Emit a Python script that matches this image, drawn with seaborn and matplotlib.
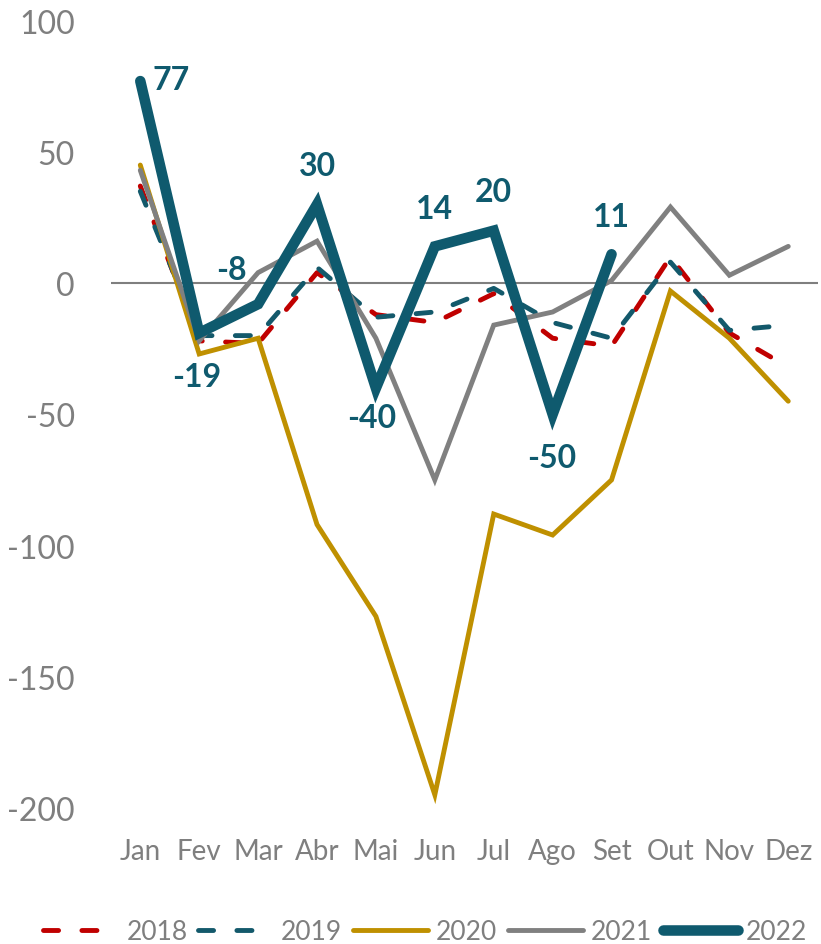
import numpy as np
import pandas as pd
import matplotlib
matplotlib.use("Agg")
import matplotlib.pyplot as plt
import seaborn as sns
from matplotlib.lines import Line2D

months = ["Jan", "Fev", "Mar", "Abr", "Mai", "Jun", "Jul", "Ago", "Set", "Out", "Nov", "Dez"]
v2018 = [37, -22, -23, 4, -12, -15, -4, -21, -24, 10, -19, -32]
v2019 = [35, -20, -20, 6, -13, -11, -2, -15, -21, 8, -18, -16]
v2020 = [45, -27, -21, -92, -127, -195, -88, -96, -75, -3, -21, -45]
v2021 = [43, -22, 4, 16, -21, -75, -16, -11, 1, 29, 3, 14]
v2022 = [77, -19, -8, 30, -40, 14, 20, -50, 11]
years = ["2018", "2019", "2020", "2021", "2022"]
y_ticks = [100, 50, 0, -50, -100, -150, -200]

series = {"2018": v2018, "2019": v2019, "2020": v2020, "2021": v2021, "2022": v2022}
rows = []
for yr, vals in series.items():
    for i, v in enumerate(vals):
        rows.append({"pos": i, "mes": months[i], "ano": yr, "valor": v})
df = pd.DataFrame(rows)

dash = (0, (3.1, 4.8))
styles = {
    "2018": dict(color="#C00000", lw=3.5, ls=dash),
    "2019": dict(color="#13596B", lw=3.5, ls=dash),
    "2020": dict(color="#BF9000", lw=3.5, ls="-"),
    "2021": dict(color="#808080", lw=3.5, ls="-"),
    "2022": dict(color="#0F5A6E", lw=7.6, ls="-"),
}

sns.set_theme(style="white")
plt.rcParams["font.family"] = ["Lato", "DejaVu Sans"]

fig = plt.figure(figsize=(8.21, 9.45), dpi=100)
ax = fig.add_axes([0.135, 0.144, 0.861, 0.833])

ax.axhline(0, color="#7F7F7F", lw=1.5, zorder=1)

for yr in years:
    st = styles[yr]
    sub = df[df["ano"] == yr]
    sns.lineplot(data=sub, x="pos", y="valor", ax=ax, color=st["color"],
                 linewidth=st["lw"], linestyle=st["ls"], legend=False,
                 zorder=3 if yr == "2022" else 2)
for line in ax.get_lines()[1:]:
    line.set_dash_capstyle("round")
    line.set_solid_capstyle("round")
    line.set_solid_joinstyle("miter")

# value labels for 2022
offsets = [(22, 1.5), (-1.5, -31), (-19, 25), (0, 28), (-3, -21), (0, 27), (0, 28), (-1, -31), (0, 27)]
for i, (v, off) in enumerate(zip(v2022, offsets)):
    ax.annotate(f"{v}", (i, v), xytext=off, textcoords="offset points",
                ha="center", va="center", fontsize=23, fontweight="bold",
                color="#0F5A6E")

ax.set_xlim(-0.5, 11.5)
ax.set_ylim(-200, 100)
ax.set_xticks(range(12))
ax.set_xticklabels(months)
ax.set_yticks(y_ticks)
ax.set_yticklabels([str(t) for t in y_ticks])
ax.tick_params(axis="y", labelsize=23, labelcolor="#7F7F7F", length=0, pad=26)
ax.tick_params(axis="x", labelsize=20, labelcolor="#7F7F7F", length=0, pad=22)
ax.set_xlabel("")
ax.set_ylabel("")
for s in ax.spines.values():
    s.set_visible(False)

handles = [Line2D([0], [0], color=styles[y]["color"], lw=styles[y]["lw"],
                  linestyle=styles[y]["ls"], dash_capstyle="round", solid_capstyle="round")
           for y in years]
fig.legend(handles, years, loc="center", bbox_to_anchor=(0.518, 0.0127), ncol=5, frameon=False,
           fontsize=19, labelcolor="#7F7F7F", handlelength=2.85, handletextpad=0.3,
           columnspacing=0.4, borderpad=0, borderaxespad=0)

fig.savefig("out.png", dpi=100)
